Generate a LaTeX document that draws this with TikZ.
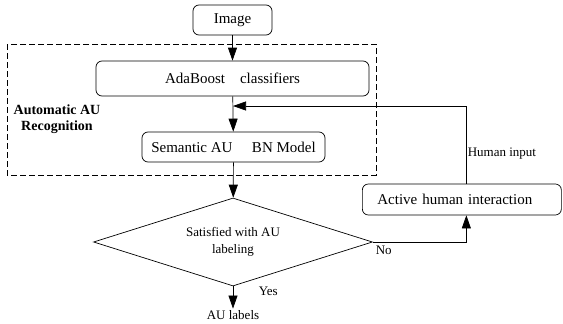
\documentclass[tikz,border=0pt]{standalone}
\usepackage{fontspec}
\setmainfont{Liberation Serif}
\usetikzlibrary{arrows.meta,shapes.geometric}
\begin{document}
\begin{tikzpicture}[x=1pt, y=-1pt, line width=0.7pt,
    font=\fontsize{15pt}{17pt}\selectfont,
    procbox/.style={draw, rounded corners=6pt, inner sep=0pt},
    lbl/.style={font=\fontsize{13pt}{15pt}\selectfont, inner sep=1.5pt},
    flow/.style={-{Triangle[length=13pt,width=9pt]}}]
    \useasboundingbox (0,0) rectangle (563,324);

    % automatic part
    \draw[dash pattern=on 6pt off 3pt, line width=0.6pt] (7,44) rectangle (376,175);
    \node[font=\fontsize{14pt}{16pt}\selectfont\bfseries, align=center] (auto) at (57,119) {Automatic AU\\Recognition};

    % boxes
    \node[procbox, minimum width=79pt, minimum height=30pt] (img) at (232.5,20) {Image};
    \node[procbox, minimum width=273pt, minimum height=35pt] (ada) at (232.5,78.5) {AdaBoost\hspace{1em}classifiers};
    \node[procbox, minimum width=183pt, minimum height=30pt] (sem) at (233.5,147) {Semantic AU\hspace{1.3em}BN Model};
    \node[draw, diamond, aspect=3.2, minimum width=279pt, minimum height=88pt, inner sep=0pt, align=center,
          font=\fontsize{13pt}{17pt}\selectfont] (dec) at (233,242) {Satisfied with AU\\labeling};
    \node[procbox, anchor=west, text width=169pt, align=left, inner xsep=15pt, minimum height=31pt] (act) at (362,199.5) {Active human interaction};
    \node[lbl] (out) at (233,315) {AU labels};

    % main flow
    \draw[flow] (img) -- (ada);
    \draw[flow] (ada) -- (sem);
    \draw[flow] (sem) -- (dec);
    \draw[flow] (dec.south) -- (out.north);
    \node[lbl, anchor=west] (yes) at (257,291) {Yes};

    % human feedback
    \coordinate (fb) at (233,106);
    \draw[flow] (dec.east) -| ([xshift=4.5pt]act.south);
    \node[lbl, anchor=north west] (no) at (374,244) {No};
    \draw[flow] ([xshift=4.5pt]act.north) |- (fb);
    \node[lbl, anchor=west] (hin) at (466,154) {Human input};
\end{tikzpicture}
\end{document}
